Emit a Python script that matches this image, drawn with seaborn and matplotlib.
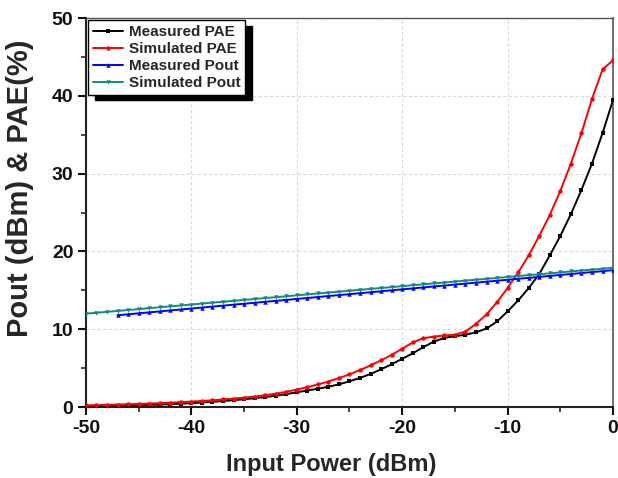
import matplotlib
matplotlib.use("Agg")
import matplotlib.pyplot as plt
import seaborn as sns
import pandas as pd
import numpy as np

# ---------------- data ----------------
input_power = list(range(-50, 1))          # dBm, -50 .. 0
input_power_meas_pout = list(range(-47, 1))  # dBm, -47 .. 0

measured_pae = [0.10, 0.12, 0.15, 0.17, 0.20, 0.23, 0.27, 0.31, 0.36, 0.42,
                0.50, 0.58, 0.67, 0.77, 0.88, 1.00, 1.13, 1.28, 1.45, 1.65,
                1.90, 2.12, 2.35, 2.60, 2.92, 3.30, 3.75, 4.25, 4.85, 5.50,
                6.20, 6.90, 7.70, 8.40, 8.90, 9.10, 9.30, 9.60, 10.10, 11.00,
                12.30, 13.70, 15.30, 17.10, 19.50, 22.00, 24.80, 27.90, 31.30, 35.20,
                39.50]

simulated_pae = [0.20, 0.25, 0.28, 0.32, 0.36, 0.40, 0.45, 0.50, 0.56, 0.63,
                 0.70, 0.78, 0.87, 0.97, 1.08, 1.20, 1.35, 1.52, 1.72, 1.95,
                 2.25, 2.55, 2.90, 3.28, 3.72, 4.20, 4.75, 5.35, 6.00, 6.70,
                 7.50, 8.30, 8.85, 9.05, 9.20, 9.30, 9.70, 10.70, 11.90, 13.50,
                 15.30, 17.30, 19.50, 22.00, 24.70, 27.80, 31.30, 35.20, 39.60, 43.40,
                 44.60]

measured_pout = [11.80, 11.92, 12.05, 12.17, 12.29, 12.42, 12.54, 12.66,
                 12.79, 12.91, 13.03, 13.16, 13.28, 13.40, 13.53, 13.65, 13.77, 13.90,
                 14.02, 14.14, 14.27, 14.39, 14.51, 14.64, 14.76, 14.88, 15.01, 15.13,
                 15.25, 15.38, 15.50, 15.62, 15.75, 15.87, 15.99, 16.12, 16.24, 16.36,
                 16.49, 16.61, 16.73, 16.86, 16.98, 17.10, 17.23, 17.35, 17.47, 17.60]

simulated_pout = [12.00, 12.12, 12.24, 12.35, 12.47, 12.59, 12.71, 12.83, 12.94, 13.06,
                  13.18, 13.30, 13.42, 13.53, 13.65, 13.77, 13.89, 14.01, 14.12, 14.24,
                  14.36, 14.48, 14.60, 14.71, 14.83, 14.95, 15.07, 15.19, 15.30, 15.42,
                  15.54, 15.66, 15.78, 15.89, 16.01, 16.13, 16.25, 16.37, 16.48, 16.60,
                  16.72, 16.84, 16.96, 17.07, 17.19, 17.31, 17.43, 17.55, 17.66, 17.78,
                  17.90]

series_names = ["Measured PAE", "Simulated PAE", "Measured Pout", "Simulated Pout"]
series_colors = ["#000000", "#ff0000", "#0000ff", "#138a80"]
series_markers = ["s", "o", "^", "v"]

x_ticks = [-50, -40, -30, -20, -10, 0]
y_ticks = [0, 10, 20, 30, 40, 50]

# ---------------- build table ----------------
frames = [
    pd.DataFrame({"x": input_power, "y": measured_pae, "series": series_names[0]}),
    pd.DataFrame({"x": input_power, "y": simulated_pae, "series": series_names[1]}),
    pd.DataFrame({"x": input_power_meas_pout, "y": measured_pout, "series": series_names[2]}),
    pd.DataFrame({"x": input_power, "y": simulated_pout, "series": series_names[3]}),
]
df = pd.concat(frames, ignore_index=True)

# ---------------- style ----------------
sns.set_theme(style="ticks")
plt.rcParams["font.family"] = ["Liberation Sans", "DejaVu Sans"]
plt.rcParams["font.weight"] = "bold"
plt.rcParams["axes.unicode_minus"] = False

fig = plt.figure(figsize=(6.18, 4.78), dpi=100)
ax = fig.add_axes([0.139, 0.1485, 0.853, 0.8135])

for name, col, mk in zip(series_names, series_colors, series_markers):
    sub = df[df["series"] == name]
    sns.lineplot(data=sub, x="x", y="y", ax=ax, color=col, marker=mk,
                 markersize=3.2, markeredgewidth=0, linewidth=1.4,
                 label=name, estimator=None, sort=False, zorder=3)

ax.set_xlim(-50, 0)
ax.set_ylim(0, 50)
ax.set_xticks(x_ticks)
ax.set_yticks(y_ticks)
ax.set_xticks([-45, -35, -25, -15, -5], minor=True)
ax.set_yticks([5, 15, 25, 35, 45], minor=True)

ax.grid(True, which="major", linestyle=(0, (3, 2)), color="#dadada", linewidth=0.8, zorder=0)
ax.set_axisbelow(True)

for s in ax.spines.values():
    s.set_linewidth(1.5)
    s.set_color("#222222")
ax.spines["top"].set_color("#555555")
ax.spines["top"].set_linewidth(1.0)
ax.spines["right"].set_color("#555555")
ax.spines["right"].set_linewidth(1.2)

ax.tick_params(axis="both", which="major", direction="out", length=6, width=1.5,
               labelsize=14, colors="#111111", pad=3)
ax.tick_params(axis="both", which="minor", direction="out", length=3.5, width=1.2)
for lab in ax.get_xticklabels() + ax.get_yticklabels():
    lab.set_fontweight("bold")

ax.set_xlabel("Input Power (dBm)", fontsize=17, fontweight="bold")
ax.set_ylabel("Pout (dBm) & PAE(%)", fontsize=21, fontweight="bold")
ax.xaxis.set_label_coords(0.465, -0.118)
ax.yaxis.set_label_coords(-0.098, 0.563)

shadow_props = {"ox": 5, "oy": -4, "color": "black", "alpha": 1.0}
leg_kw = dict(loc="upper left", frameon=True, fancybox=False,
              borderaxespad=0.15, handlelength=2.0, handletextpad=0.35,
              borderpad=0.3, labelspacing=0.2,
              prop={"weight": "bold", "size": 11})
try:
    leg = ax.legend(shadow=shadow_props, **leg_kw)
except Exception:
    leg = ax.legend(shadow=True, **leg_kw)
leg.get_frame().set_edgecolor("black")
leg.get_frame().set_linewidth(1.0)
leg.get_frame().set_alpha(1.0)

fig.savefig("out.png", dpi=100)
